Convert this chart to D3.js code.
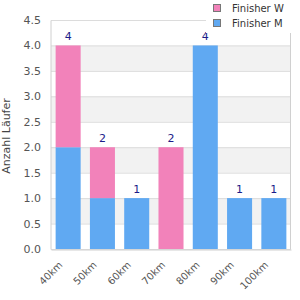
<!DOCTYPE html>
<html lang='de'>
  <head>
    <meta charset='utf-8'>
    <script src='https://cdnjs.cloudflare.com/ajax/libs/d3/7.8.5/d3.min.js'></script>
    <style>
      body { margin: 0; background: #fff; }
      text { font-family: 'DejaVu Sans', sans-serif; }
    </style>
  </head>
  <body>
    <div id='chart'></div>
    <script type='text/javascript'>

      // data
      var categories = ['40km', '50km', '60km', '70km', '80km', '90km', '100km'];
      var finisherM = [2, 1, 1, 0, 4, 1, 1];
      var finisherW = [2, 1, 0, 2, 0, 0, 0];
      var yTicks = [0, 0.5, 1, 1.5, 2, 2.5, 3, 3.5, 4, 4.5];
      var seriesNames = ['Finisher W', 'Finisher M'];
      var seriesColors = ['#f282ba', '#60a9f2'];

      var svgWidth = 300, svgHeight = 300;
      var plotLeft = 51, plotRight = 291, plotTop = 20, plotBottom = 249;

      var svg = d3.select('#chart').append('svg')
                  .attr('width', svgWidth)
                  .attr('height', svgHeight);

      var xScale = d3.scaleBand()
                     .domain(categories)
                     .range([plotLeft, plotRight])
                     .paddingInner(0.27)
                     .paddingOuter(0.135);

      var yScale = d3.scaleLinear()
                     .domain([0, 4.5])
                     .range([plotBottom, plotTop]);

      // alternating bands
      var bands = [];
      for (var i = 0; i < yTicks.length - 1; i++) {
        if (i % 2 == 1) bands.push([yTicks[i], yTicks[i + 1]]);
      }
      svg.append('g').selectAll('rect').data(bands)
         .enter().append('rect')
         .attr('x', plotLeft)
         .attr('width', plotRight - plotLeft)
         .attr('y', function(d){ return yScale(d[1]); })
         .attr('height', function(d){ return yScale(d[0]) - yScale(d[1]); })
         .attr('fill', '#f2f2f2');

      // gridlines
      svg.append('g')
         .attr('transform', 'translate(' + plotLeft + ',0)')
         .call(d3.axisLeft(yScale).tickValues(yTicks)
               .tickSize(-(plotRight - plotLeft)).tickFormat(''))
         .call(function(g){
           g.select('.domain').remove();
           g.selectAll('line').attr('stroke', '#dcdcdc');
         });

      // stacked bars
      var stackData = categories.map(function(c, i){
        return {cat: c, m: finisherM[i], w: finisherW[i]};
      });
      var series = d3.stack().keys(['m', 'w'])(stackData);

      svg.append('g').selectAll('g').data(series)
         .enter().append('g')
         .attr('fill', function(d, i){ return i == 0 ? seriesColors[1] : seriesColors[0]; })
         .selectAll('rect').data(function(d){ return d; })
         .enter().append('rect')
         .attr('x', function(d){ return xScale(d.data.cat); })
         .attr('width', xScale.bandwidth())
         .attr('y', function(d){ return yScale(d[1]); })
         .attr('height', function(d){ return yScale(d[0]) - yScale(d[1]); });

      // total labels
      svg.append('g').selectAll('text').data(stackData)
         .enter().append('text')
         .attr('x', function(d){ return xScale(d.cat) + xScale.bandwidth() / 2; })
         .attr('y', function(d){ return yScale(d.m + d.w) - 5; })
         .attr('text-anchor', 'middle')
         .attr('font-size', 11)
         .attr('fill', '#1c1c8a')
         .text(function(d){ return d.m + d.w; });

      // right frame line
      svg.append('line')
         .attr('x1', plotRight - 0.5).attr('x2', plotRight - 0.5)
         .attr('y1', plotTop).attr('y2', plotBottom)
         .attr('stroke', '#d0d0d0');

      // axes
      var yAxis = svg.append('g')
         .attr('transform', 'translate(' + (plotLeft - 0.5) + ',0)')
         .call(d3.axisLeft(yScale).tickValues(yTicks).tickSize(0).tickPadding(9.5)
               .tickFormat(d3.format('.1f')));
      yAxis.select('.domain').attr('stroke', '#d0d0d0');
      yAxis.selectAll('text').attr('font-size', 11).attr('fill', '#555')
           .style('font-family', "'DejaVu Sans', sans-serif");

      var xAxis = svg.append('g')
         .attr('transform', 'translate(0,' + (plotBottom + 0.5) + ')')
         .call(d3.axisBottom(xScale).tickSize(0).tickPadding(0));
      xAxis.select('.domain').attr('stroke', '#d0d0d0');
      xAxis.selectAll('text')
           .attr('font-size', 10).attr('fill', '#555')
           .style('font-family', "'DejaVu Sans', sans-serif")
           .style('text-anchor', 'end')
           .attr('dx', 0).attr('dy', 0).attr('y', 0)
           .attr('transform', 'translate(-5,16) rotate(-45)');

      // y title
      svg.append('text')
         .text('Anzahl Läufer')
         .attr('transform', 'translate(10,136) rotate(-90)')
         .attr('text-anchor', 'middle')
         .attr('font-size', 11)
         .attr('fill', '#444');

      // legend
      svg.append('rect')
         .attr('x', 206).attr('y', 0).attr('width', 94).attr('height', 33)
         .attr('fill', '#fff');
      var legend = svg.append('g').selectAll('g').data(seriesNames)
         .enter().append('g')
         .attr('transform', function(d, i){ return 'translate(213.5,' + (4.5 + i * 15) + ')'; });
      legend.append('rect')
         .attr('width', 7).attr('height', 7)
         .attr('fill', function(d, i){ return seriesColors[i]; })
         .attr('stroke', '#777');
      legend.append('text')
         .attr('x', 18.5).attr('y', 7.5)
         .attr('font-size', 10)
         .attr('fill', '#333')
         .text(function(d){ return d; });

    </script>
  </body>
</html>
